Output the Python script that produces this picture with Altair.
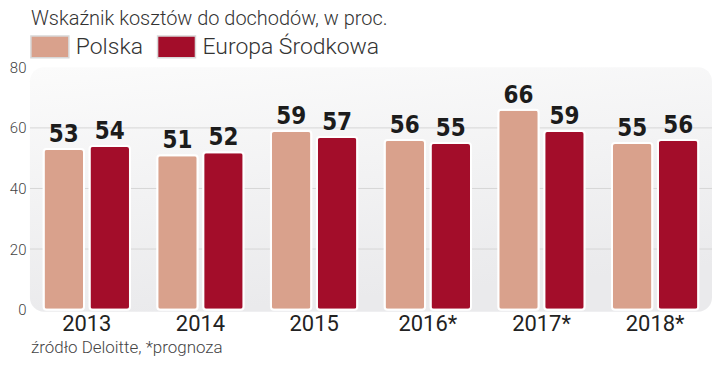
import altair as alt
import pandas as pd

# ---- data ----
title_text = ["Wskaźnik kosztów do dochodów, w proc."]
source_text = ["źródło Deloitte, *prognoza"]
years = ["2013", "2014", "2015", "2016*", "2017*", "2018*"]
series = ["Polska", "Europa Środkowa"]
polska = [53, 51, 59, 56, 66, 55]
europa = [54, 52, 57, 55, 59, 56]
colors = ["#D9A18C", "#A30D2A"]
y_ticks = [0, 20, 40, 60, 80]
grid_values = [20, 40, 60]

rows = []
for i, yr in enumerate(years):
    rows.append({"rok": yr, "seria": series[0], "wartosc": polska[i]})
    rows.append({"rok": yr, "seria": series[1], "wartosc": europa[i]})
df = pd.DataFrame(rows)

W = 684
H = 243

x_enc = alt.X(
    "rok:N",
    sort=years,
    scale=alt.Scale(paddingInner=0.24, paddingOuter=0.12),
    axis=alt.Axis(
        title=None, labelAngle=0, labelFontSize=22, labelColor="#222222",
        labelFont="Roboto", labelPadding=4, labelBaseline="top",
        domain=False, ticks=False, grid=False,
    ),
)
xoff_enc = alt.XOffset("seria:N", sort=series, scale=alt.Scale(paddingInner=0.12))
y_scale = alt.Scale(domain=[0, 80])
y_enc = alt.Y(
    "wartosc:Q",
    scale=y_scale,
    axis=alt.Axis(
        values=y_ticks, title=None, grid=False, domain=False, ticks=False,
        labelPadding=4, labelFontSize=15, labelColor="#444444",
        labelFont="Roboto", labelFontWeight=300,
    ),
)

bg = alt.Chart(pd.DataFrame({"a": [0]})).mark_rect(
    cornerRadius=14,
    fill=alt.LinearGradient(
        gradient="linear",
        stops=[alt.GradientStop(color="#FBFBFB", offset=0),
               alt.GradientStop(color="#EAEAEC", offset=1)],
        x1=0, x2=0.25, y1=0, y2=1,
    ),
).encode(x=alt.value(0), x2=alt.value(W), y=alt.value(0), y2=alt.value(H + 2))

grid = alt.Chart(pd.DataFrame({"g": grid_values})).mark_rule(
    color="#D6D6D6", strokeWidth=1
).encode(y=alt.Y("g:Q", scale=y_scale), x=alt.value(0), x2=alt.value(W))

bars = alt.Chart(df).mark_bar(
    cornerRadius=3, stroke="white", strokeWidth=2
).encode(
    x=x_enc,
    xOffset=xoff_enc,
    y=y_enc,
    color=alt.Color(
        "seria:N", sort=series,
        scale=alt.Scale(domain=series, range=colors),
        legend=alt.Legend(
            orient="none", legendX=0, legendY=-41, direction="horizontal",
            title=None, symbolType="M-1,-0.58H1V0.58H-1Z", symbolSize=1444,
            symbolStrokeColor="#D8D8D8", symbolStrokeWidth=1.5, symbolOpacity=1,
            labelFontSize=23, labelFont="Roboto", labelFontWeight=300,
            labelColor="#333333", labelOffset=6, columnPadding=11,
            labelLimit=400,
        ),
    ),
)

labels = alt.Chart(df).mark_text(
    font="DejaVu Sans Condensed", fontWeight="bold", fontSize=24,
    baseline="alphabetic", dy=-7, color="#1C1C1C",
).encode(x=x_enc, xOffset=xoff_enc, y=y_enc, text="wartosc:Q")

title = alt.Chart(pd.DataFrame({"t": title_text})).mark_text(
    align="left", baseline="alphabetic", font="Roboto", fontWeight=300,
    fontSize=20, color="#333333",
).encode(x=alt.value(1), y=alt.value(-42), text="t:N")

source = alt.Chart(pd.DataFrame({"t": source_text})).mark_text(
    align="left", baseline="alphabetic", font="Roboto", fontWeight=300,
    fontSize=17, color="#444444",
).encode(x=alt.value(1), y=alt.value(286), text="t:N")

chart = alt.layer(bg, grid, bars, labels, title, source).properties(
    width=W, height=H,
    padding={"left": 22, "top": 59, "right": 0, "bottom": 47},
    autosize=alt.AutoSizeParams(type="none"),
).configure_view(stroke=None)

chart.save("out.html", embed_options={"renderer": "svg", "actions": False})
